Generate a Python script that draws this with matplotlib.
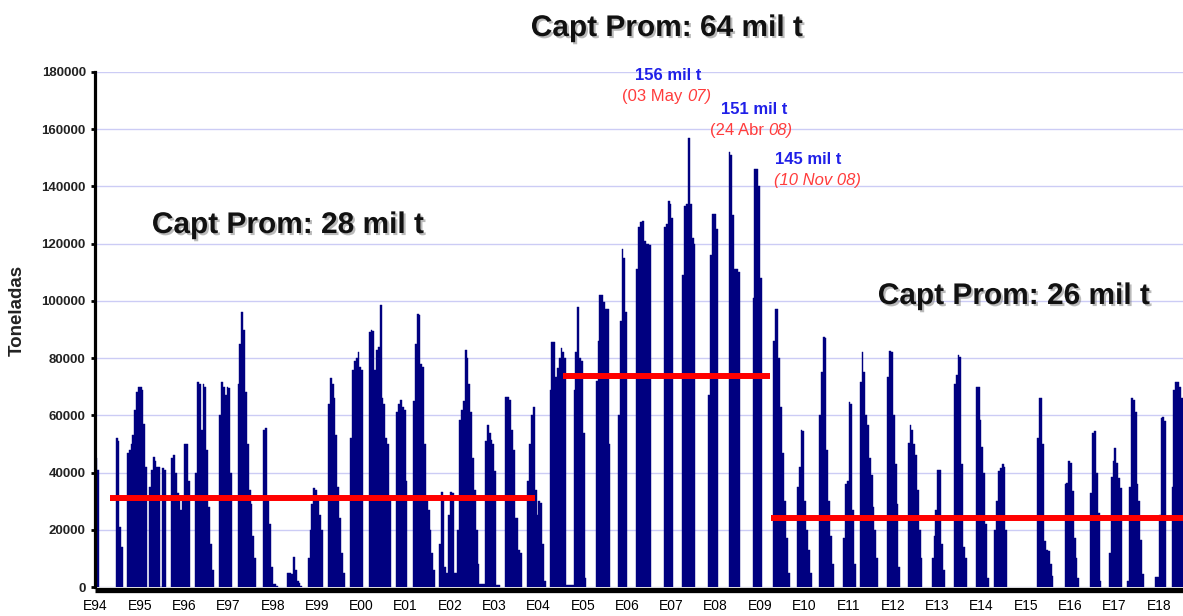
import matplotlib
matplotlib.use("Agg")
import matplotlib.pyplot as plt
import matplotlib.patheffects as pe

# fishing seasons: start as (year, half-month index 0-23), catch per half month (t)
season_start = [
    (1994, 0), (1994, 11), (1994, 17), (1995, 5), (1995, 17), (1996, 6), (1996, 19),
    (1997, 5), (1997, 19), (1998, 8), (1998, 19), (1999, 6), (1999, 18), (2000, 4),
    (2000, 19), (2001, 4), (2001, 18), (2002, 19), (2003, 6), (2003, 18), (2004, 6),
    (2004, 19), (2005, 7), (2005, 19), (2006, 5), (2006, 20), (2007, 6), (2007, 20),
    (2008, 7), (2008, 20), (2009, 7), (2009, 20), (2010, 8), (2010, 21), (2011, 6),
    (2011, 21), (2012, 8), (2012, 21), (2013, 9), (2013, 21), (2014, 7), (2015, 6),
    (2015, 21), (2016, 11), (2016, 21), (2017, 7), (2017, 22), (2018, 7),
]
season_catch = [
    [45000, 41000],
    [52000, 51000, 21000, 14000],
    [47000, 48000, 50000, 53000, 62000, 68000, 70000, 70000, 69000, 57000, 42000],
    [35000, 41000, 45500, 44000, 42000, 42000, 0, 41500, 41000],
    [45000, 46000, 40000, 33000, 30000, 27000, 30000, 50000, 50000, 37000],
    [40000, 71500, 71000, 55000, 71000, 70000, 48000, 28000, 15000, 6000],
    [60000, 71500, 70000, 67000, 70000, 69500, 40000],
    [71000, 85000, 96000, 90000, 68000, 50000, 34000, 29000, 18000, 10000],
    [55000, 55500, 30000, 22000, 7000, 1000, 1000, 500],
    [5000, 5000, 4500, 10500, 6000, 2000, 1500, 500],
    [10000, 20000, 29000, 34500, 34000, 30000, 25000, 20000],
    [64000, 73000, 71000, 66000, 53000, 35000, 24000, 12000, 5000],
    [52000, 76000, 79000, 80000, 82000, 77000, 76000],
    [89000, 90000, 89500, 76000, 83000, 84000, 98500, 66000, 64000, 52000, 50000, 30000],
    [61000, 64000, 65500, 63000, 62000, 37000],
    [65000, 85000, 95500, 95000, 78000, 77000, 50000, 30000, 27000, 20000, 12000, 6000],
    [15000, 33300, 30000, 7000, 5000, 25000, 33300, 33000, 5000, 5000, 20000, 58400,
     62000, 65000, 82800, 80000, 71000, 61000, 45000, 34000, 20000, 8000, 1000, 1000, 1000],
    [51000, 56500, 54000, 51500, 50000, 40500, 800, 800],
    [66500, 66500, 65500, 55000, 48000, 24000, 24000, 13000, 12000],
    [37000, 50000, 60000, 63000, 34000, 25000, 30000, 29500, 15000, 2000],
    [69000, 85700, 85500, 73500, 76500, 80000, 83500, 82000, 80000, 800, 800, 800, 800],
    [69000, 82000, 98000, 80000, 79000, 54000, 3000],
    [72000, 86000, 102000, 102000, 99500, 97000, 97000, 50000],
    [60000, 93000, 118000, 115000, 96000],
    [111000, 126000, 127500, 128000, 121000, 120000, 120000, 119500],
    [126000, 127000, 135000, 134000, 129000],
    [109000, 133000, 134000, 157000, 134000, 122000, 120000],
    [67000, 116000, 130500, 130500, 125000],
    [152000, 151000, 130000, 111000, 111000, 110000],
    [101000, 146000, 146000, 140000, 108000],
    [86000, 97000, 97000, 80000, 63000, 47000, 30000, 17000, 5000],
    [35000, 42000, 55000, 54500, 30000, 20000, 13000, 5000],
    [60000, 75000, 87500, 87000, 48000, 30000, 18000, 8000],
    [17000, 36000, 37000, 64500, 64000, 27000, 8000],
    [71500, 82000, 75000, 60000, 56500, 45000, 39000, 28000, 20000, 10000],
    [73500, 82500, 82000, 60000, 43000, 29000, 7000],
    [50500, 56500, 55000, 50000, 46000, 34000, 20000, 10000],
    [10000, 18000, 27000, 41000, 41000, 15000, 6000],
    [70800, 74000, 81000, 80500, 43000, 14000, 10000],
    [70000, 70000, 58500, 49000, 40000, 22000, 3000],
    [20000, 30000, 40500, 41500, 43000, 42000, 20000],
    [52000, 66000, 66000, 50000, 16000, 13000, 12500, 8000, 4000],
    [36000, 36500, 44000, 43500, 33500, 17000, 10000, 3000],
    [33000, 54000, 54500, 40000, 26000, 2000],
    [12000, 38500, 44000, 48500, 43500, 38000, 34500],
    [2000, 35000, 66000, 65500, 61000, 36000, 30000, 16500, 4400],
    [3500, 3500, 25000, 59000, 59500, 58000],
    [35000, 69000, 71500, 71500, 70000, 66000, 40000],
]

# period averages (red lines) as drawn
avg_level = [31000, 73800, 24100]
avg_from = [1994.33, 2004.55, 2009.24]
avg_to = [2003.93, 2009.23, 2018.6]
avg_label = ["Capt Prom: 28 mil t", "Capt Prom: 64 mil t", "Capt Prom: 26 mil t"]
avg_label_px = [(288, 225), (667, 28), (1014, 296)]

# peak annotations: value, date (upright part, italic part)
peak_value = ["156 mil t", "151 mil t", "145 mil t"]
peak_date_rm = ["(03 May ", "(24 Abr ", ""]
peak_date_it = ["07)", "08)", "(10 Nov 08)"]
peak_value_px = [(668, 76), (754, 110), (808, 159)]
peak_date_left_px = [(622, 97), (710, 131), (774, 181)]

years = list(range(1994, 2019))
year_labels = ["E%02d" % (y % 100) for y in years]
y_ticks = list(range(0, 180001, 20000))

plt.rcParams["font.family"] = ["Liberation Sans", "DejaVu Sans"]

W, H = 1183, 616
fig = plt.figure(figsize=(W / 100, H / 100), dpi=100)
ax = fig.add_axes([95.5 / W, 1 - 587 / H, 1 - 95.5 / W, (587 - 72) / H])

x = []
h = []
for (yr, hm), vals in zip(season_start, season_catch):
    for k, v in enumerate(vals):
        x.append(yr + (hm + k) / 24)
        h.append(v)
ax.bar(x, h, width=1 / 24, align="edge", color="#000080", edgecolor="#000080",
       linewidth=0.3, zorder=2)

ax.hlines(avg_level, avg_from, avg_to, color="#ff0000", linewidth=4.3, zorder=3)

ax.set_xlim(1994.0, 1994 + (W - 95.5) / 44.3)
ax.set_ylim(0, 180000)
ax.set_yticks(y_ticks)
ax.set_yticklabels([str(v) for v in y_ticks], fontweight="bold", fontsize=9.5, color="#222222")
ax.set_xticks(years)
ax.set_xticklabels(year_labels, fontweight="bold", fontsize=12, color="#111111")
ax.tick_params(axis="y", direction="out", length=3, width=2, color="black", pad=4)
ax.tick_params(axis="x", length=0, pad=6)
ax.yaxis.grid(True, color="#ccccf5", linewidth=1.0, zorder=0)
ax.set_axisbelow(True)

for side in ["top", "right"]:
    ax.spines[side].set_visible(False)
ax.spines["left"].set_linewidth(2.3)
ax.spines["bottom"].set_linewidth(3.8)
ax.spines["bottom"].set_position(("outward", 2.5))
ax.spines["bottom"].set_capstyle("butt")

fig.text(17 / W, 1 - 310 / H, "Toneladas", rotation=90, ha="center", va="center",
         fontweight="bold", fontsize=13.5, color="#222222")

shadow = [pe.withSimplePatchShadow(offset=(1.5, -1.5), shadow_rgbFace="#777777", alpha=0.5)]
for txt, (px, py) in zip(avg_label, avg_label_px):
    fig.text(px / W, 1 - py / H, txt, ha="center", va="center", fontsize=21.5,
             fontweight="bold", color="#111111", path_effects=shadow)

for txt, (px, py) in zip(peak_value, peak_value_px):
    fig.text(px / W, 1 - py / H, txt, ha="center", va="center", fontsize=12,
             fontweight="bold", color="#2020e8")

renderer = fig.canvas.get_renderer()
for rm, it, (px, py) in zip(peak_date_rm, peak_date_it, peak_date_left_px):
    left = px
    if rm:
        t = fig.text(px / W, 1 - py / H, rm, ha="left", va="center", fontsize=12,
                     color="#ff3c3c")
        left = t.get_window_extent(renderer).x1
    fig.text(left / W, 1 - py / H, it, ha="left", va="center", fontsize=12,
             color="#ff3c3c", style="italic")

fig.savefig("out.png", dpi=100)
